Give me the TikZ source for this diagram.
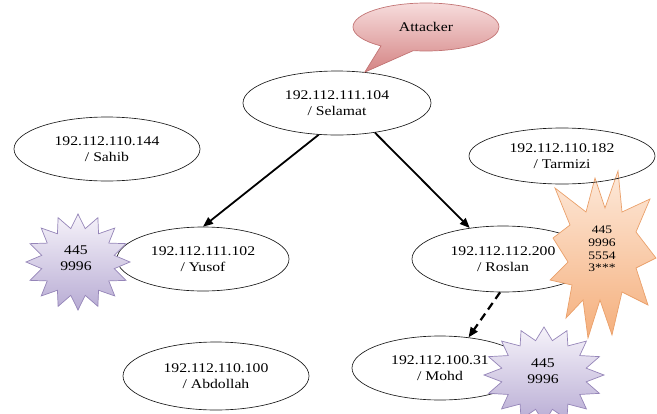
\documentclass[tikz,border=0pt]{standalone}
\usepackage{fontspec}
\setmainfont{Liberation Serif}[FakeStretch=1.18]
\usetikzlibrary{shapes.geometric,shapes.callouts,arrows.meta}
\definecolor{pinkT}{HTML}{F7DCDC}
\definecolor{pinkB}{HTML}{D48484}
\definecolor{pinkD}{HTML}{C27474}
\definecolor{purT}{HTML}{F6F3FA}
\definecolor{purB}{HTML}{B8ACD4}
\definecolor{purD}{HTML}{9585B8}
\definecolor{orT}{HTML}{FDE9DA}
\definecolor{orB}{HTML}{F5AF7C}
\definecolor{orD}{HTML}{EAA06A}
\begin{document}
\begin{tikzpicture}[x=1pt,y=-1pt,
  mainfont/.style={font=\fontsize{13.3}{16.5}\selectfont},
  host/.style={ellipse, draw=black!90, line width=0.65pt, minimum width=186pt,
    minimum height=64pt, inner sep=0pt, align=center, mainfont},
  lbl/.style={align=center, inner sep=0pt, mainfont},
  smalllbl/.style={align=center, inner sep=0pt, font=\fontsize{11.5}{12.7}\selectfont},
  purplestar/.style={draw=purD, line width=0.7pt, top color=purT, bottom color=purB},
  orangestar/.style={draw=orD, line width=0.7pt, top color=orT, bottom color=orB},
  link/.style={line width=1.8pt, -{Triangle[length=10pt,width=8pt]}},
  dashlink/.style={line width=2.2pt, dash pattern=on 8pt off 5pt, -{Triangle[length=10pt,width=8pt]}},
]
\useasboundingbox (0,0) rectangle (657,413);
\clip (0,0) rectangle (657,413);

% Selamat and attacker callout
\node[host, minimum width=188pt] (sel) at (337,103) {192.112.111.104\\/ Selamat};
\node[ellipse callout, callout absolute pointer={(sel.48)}, callout pointer arc=28,
  minimum width=146pt, minimum height=48pt, inner sep=0pt, draw=pinkD, line width=0.7pt,
  top color=pinkT, bottom color=pinkB, mainfont] (att) at (426,27) {Attacker};

% Sahib
\node[host] (sah) at (107,149) {192.112.110.144\\/ Sahib};

% Yusof with star
\node[host, minimum width=172pt] (yus) at (203,259) {192.112.111.102\\/ Yusof};
\path[purplestar] plot[variable=\t, samples at={0,...,31}]
  ({78+ifthenelse(mod(\t,2)==0,52,37)*cos(90+\t*11.25)},
   {262+ifthenelse(mod(\t,2)==0,48,34)*sin(90+\t*11.25)}) -- cycle;
\node[lbl] (py) at (76,258) {445\\9996};

% Roslan with star
\node[host, minimum width=182pt, minimum height=66pt] (ros) at (503,259) {192.112.112.200\\/ Roslan};
\path[orangestar] (618,171) -- (622,212) -- (650,199) -- (636,232) -- (656,258)
  -- (636,268) -- (648,305) -- (622,292) -- (612,335) -- (600,300) -- (588,338)
  -- (583,300) -- (566,318) -- (572,285) -- (550,280) -- (568,262) -- (553,238)
  -- (570,225) -- (555,188) -- (586,212) -- (595,178) -- (605,208) -- cycle;
\node[smalllbl] (pr) at (602,249) {445\\9996\\5554\\3***};

% Tarmizi
\node[host, minimum height=56pt] (tar) at (562,156) {192.112.110.182\\/ Tarmizi};

% Mohd with star
\node[host, minimum width=176pt] (moh) at (440,368) {192.112.100.31\\/ Mohd};
\path[purplestar] plot[variable=\t, samples at={0,...,31}]
  ({544+ifthenelse(mod(\t,2)==0,60,43)*cos(90+\t*11.25)},
   {375+ifthenelse(mod(\t,2)==0,48,35)*sin(90+\t*11.25)}) -- cycle;
\node[lbl] (pm) at (543,371) {445\\9996};

% Abdollah
\node[host, minimum height=68pt] (abd) at (216,376) {192.112.110.100\\/ Abdollah};

% connectors
\draw[link] (sel.240) -- (yus.north);
\draw[link] (sel.322) -- (ros.137);
\draw[dashlink] (ros.265) -- (moh.47);
\end{tikzpicture}
\end{document}
